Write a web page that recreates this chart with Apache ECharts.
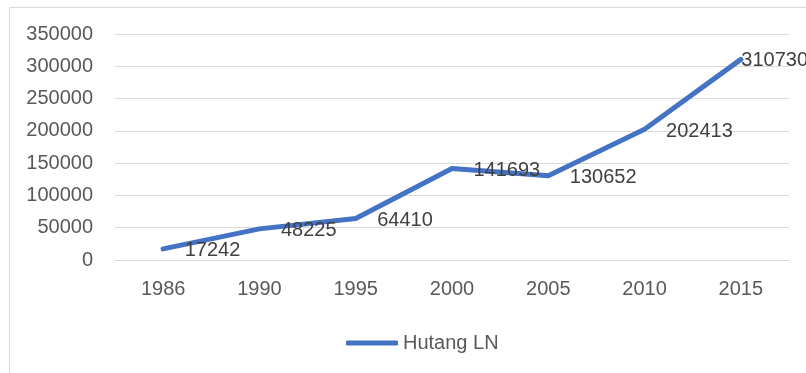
<!DOCTYPE html>
<html>
<head>
<meta charset="utf-8">
<script src="https://cdn.jsdelivr.net/npm/echarts@6/dist/echarts.min.js"></script>
<style>
html,body{margin:0;padding:0;background:#fff;}
#chart{width:806px;height:373px;}
</style>
</head>
<body>
<div id="chart"></div>
<script>
var years = ['1986', '1990', '1995', '2000', '2005', '2010', '2015'];
var hutangLN = [17242, 48225, 64410, 141693, 130652, 202413, 310730];
var seriesName = 'Hutang LN';
var yTicks = { min: 0, max: 350000, interval: 50000 };

var FONT = '"Liberation Sans", Arial, sans-serif';
var chart = echarts.init(document.getElementById('chart'), null, { renderer: 'canvas' });

var seriesData = hutangLN.map(function (v, i) {
  if (i === hutangLN.length - 1) {
    return { value: v, label: { distance: 0, offset: [0, 1] } };
  }
  return v;
});

chart.setOption({
  animation: false,
  backgroundColor: '#ffffff',
  graphic: [{
    type: 'rect',
    shape: { x: 9.5, y: 7.5, width: 820, height: 400 },
    style: { fill: 'none', stroke: '#d9d9d9', lineWidth: 1 },
    silent: true,
    z: -1
  }],
  grid: { left: 115, right: 17, top: 34, bottom: 113, containLabel: false },
  legend: {
    data: [{ name: seriesName, icon: 'roundRect' }],
    left: 341,
    top: 328,
    itemWidth: 52,
    itemHeight: 5,
    itemGap: 10,
    itemStyle: { color: '#4472C4', borderWidth: 0 },
    textStyle: { fontFamily: FONT, fontSize: 20, color: '#595959' }
  },
  xAxis: {
    type: 'category',
    data: years,
    boundaryGap: true,
    axisLine: { show: true, lineStyle: { color: '#d9d9d9', width: 1 } },
    axisTick: { show: false },
    axisLabel: { fontFamily: FONT, fontSize: 20, color: '#595959', margin: 19 },
    splitLine: { show: false }
  },
  yAxis: {
    type: 'value',
    min: yTicks.min,
    max: yTicks.max,
    interval: yTicks.interval,
    axisLine: { show: false },
    axisTick: { show: false },
    axisLabel: {
      fontFamily: FONT, fontSize: 20, color: '#595959', margin: 22,
      formatter: function (v) { return String(v); }
    },
    splitLine: { show: true, lineStyle: { color: '#d9d9d9', width: 1 } }
  },
  series: [{
    name: seriesName,
    type: 'line',
    data: seriesData,
    symbol: 'circle',
    showSymbol: true,
    symbolSize: 1,
    lineStyle: { color: '#4472C4', width: 5, cap: 'round', join: 'round' },
    itemStyle: { color: '#4472C4' },
    label: {
      show: true,
      position: 'right',
      distance: 21,
      offset: [0, 2],
      fontFamily: FONT,
      fontSize: 20,
      color: '#404040',
      formatter: function (p) { return String(p.value); }
    }
  }]
});
</script>
</body>
</html>
